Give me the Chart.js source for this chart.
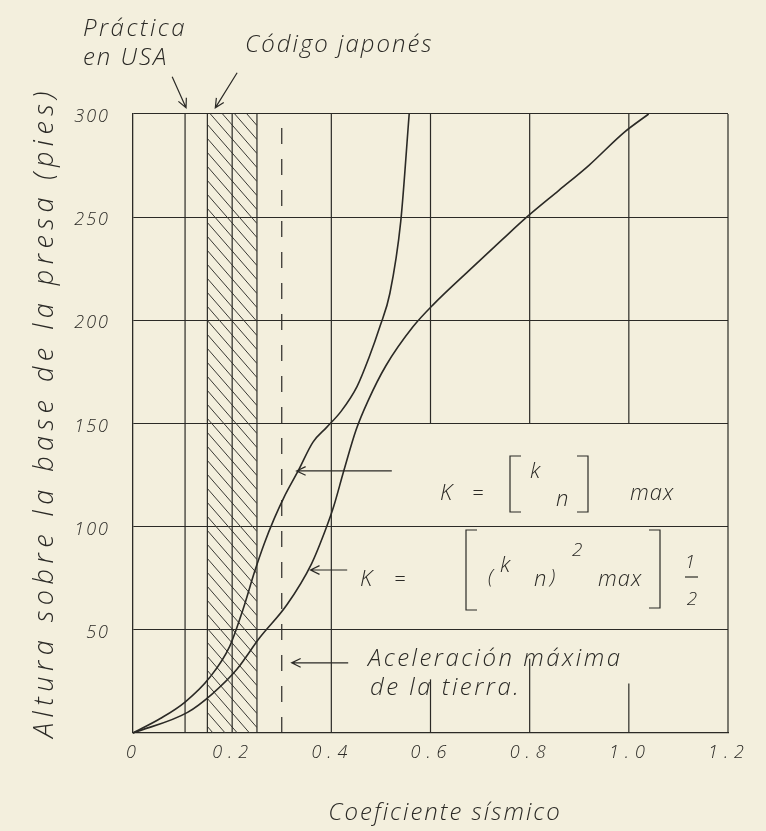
<!DOCTYPE html>
<html>
<head>
<meta charset="utf-8">
<script src="https://cdn.jsdelivr.net/npm/chart.js@4.4.0/dist/chart.umd.min.js"></script>
<style>
  html, body { margin: 0; padding: 0; background: #f3efdd; }
  #wrap { width: 766px; height: 831px; }
</style>
</head>
<body>
<div id="wrap"><canvas id="chart" width="766" height="831"></canvas></div>
<script>
// Ejes
const xTicks = [0, 0.2, 0.4, 0.6, 0.8, 1.0, 1.2];
const xTickText = ['0', '0.2', '0.4', '0.6', '0.8', '1.0', '1.2'];
const yTicks = [50, 100, 150, 200, 250, 300];

// Curva K = [k n] max
const kMaxX = [0, 0.055, 0.105, 0.155, 0.195, 0.222, 0.245, 0.265, 0.285, 0.304, 0.333, 0.363, 0.39, 0.42, 0.452, 0.476, 0.498, 0.518, 0.54, 0.557];
const kMaxY = [0, 7, 15, 27, 42, 60, 78, 92, 104, 114, 127, 141, 148, 156, 168, 182, 197, 213, 248, 300];

// Curva K = [(k n)^2 max] 1/2
const kRmsX = [0, 0.11, 0.16, 0.21, 0.255, 0.31, 0.36, 0.389, 0.405, 0.425, 0.45, 0.474, 0.51, 0.565, 0.607, 0.677, 0.744, 0.794, 0.859, 0.919, 0.99, 1.04];
const kRmsY = [0, 10, 19, 31, 46, 62, 82, 99, 110, 127, 147, 161, 178, 197, 208, 224, 239, 250, 263, 275, 291, 300];

// Lineas verticales de la cuadricula
const fullLinesX = [0.105, 0.15, 0.2, 0.25, 0.4, 1.2];
const upperLinesX = [0.6, 0.8, 1.0];
const upperFrom = 150;
const upperTo = 300;
const stubLinesX = [0.6, 0.8, 1.0];
const stubTop = [26, 36, 24];
const groundAccel = 0.3;      // aceleracion maxima de la tierra
const japanBand = [0.15, 0.25]; // codigo japones

const INK = '#2b2a26';
const HAND = '"Open Sans", "DejaVu Sans", sans-serif';

function seg(x, y0, y1) {
    return [{ x: x, y: y0 }, { x: x, y: y1 }];
}

const lineStyle = {
    showLine: true,
    pointRadius: 0,
    borderColor: INK,
    borderWidth: 1.2,
    fill: false,
    clip: false
};

const datasets = [];
fullLinesX.forEach(x => datasets.push({ ...lineStyle, data: seg(x, 0, 300) }));
upperLinesX.forEach(x => datasets.push({ ...lineStyle, data: seg(x, upperFrom, upperTo) }));
stubLinesX.forEach((x, i) => datasets.push({ ...lineStyle, data: seg(x, 0, stubTop[i]) }));
datasets.push({ ...lineStyle, borderDash: [16, 15], data: seg(groundAccel, 0, 300) });
datasets.push({
    ...lineStyle,
    borderWidth: 1.6,
    cubicInterpolationMode: 'monotone',
    data: kMaxX.map((x, i) => ({ x: x, y: kMaxY[i] }))
});
datasets.push({
    ...lineStyle,
    borderWidth: 1.6,
    cubicInterpolationMode: 'monotone',
    data: kRmsX.map((x, i) => ({ x: x, y: kRmsY[i] }))
});

// Flechas en coordenadas de datos
const arrows = [
    { from: [0.079, 318], to: [0.107, 303] },
    { from: [0.21, 320], to: [0.166, 303] },
    { from: [0.522, 127], to: [0.33, 127] },
    { from: [0.432, 79], to: [0.358, 79] },
    { from: [0.434, 34], to: [0.32, 34] }
];

function txt(ctx, s, x, y, size, align, spacing) {
    ctx.font = 'italic 300 ' + size + 'px ' + HAND;
    ctx.letterSpacing = (spacing || 0) + 'px';
    ctx.textAlign = align || 'left';
    ctx.textBaseline = 'alphabetic';
    ctx.fillText(s, x, y);
}

function drawArrow(ctx, x0, y0, x1, y1) {
    const a = Math.atan2(y1 - y0, x1 - x0);
    const h = 10;
    ctx.beginPath();
    ctx.moveTo(x0, y0);
    ctx.lineTo(x1, y1);
    ctx.moveTo(x1 - h * Math.cos(a - 0.45), y1 - h * Math.sin(a - 0.45));
    ctx.lineTo(x1, y1);
    ctx.lineTo(x1 - h * Math.cos(a + 0.45), y1 - h * Math.sin(a + 0.45));
    ctx.stroke();
}

function bracket(ctx, x, top, bottom, dir) {
    ctx.beginPath();
    ctx.moveTo(x + dir * 11, top);
    ctx.lineTo(x, top);
    ctx.lineTo(x, bottom);
    ctx.lineTo(x + dir * 11, bottom);
    ctx.stroke();
}

const paperPlugin = {
    id: 'paper',
    beforeDraw(chart) {
        const ctx = chart.ctx;
        ctx.save();
        ctx.fillStyle = '#f3efdd';
        ctx.fillRect(0, 0, chart.width, chart.height);
        ctx.restore();
    },
    beforeDatasetsDraw(chart) {
        // Rayado de la banda del codigo japones
        const ctx = chart.ctx;
        const xs = chart.scales.x, ys = chart.scales.y;
        const xl = xs.getPixelForValue(japanBand[0]);
        const xr = xs.getPixelForValue(japanBand[1]);
        const top = ys.getPixelForValue(300);
        const bottom = ys.getPixelForValue(0);
        ctx.save();
        ctx.beginPath();
        ctx.rect(xl, top, xr - xl, bottom - top);
        ctx.clip();
        ctx.strokeStyle = '#3a3934';
        ctx.lineWidth = 1;
        const w = xr - xl;
        for (let t = -w * 1.2; t < bottom - top + 10; t += 14) {
            ctx.beginPath();
            ctx.moveTo(xl, top + t);
            ctx.lineTo(xr, top + t + w * 1.15);
            ctx.stroke();
        }
        ctx.restore();
    },
    afterDraw(chart) {
        const ctx = chart.ctx;
        const xs = chart.scales.x, ys = chart.scales.y;
        ctx.save();
        ctx.fillStyle = INK;
        ctx.strokeStyle = INK;
        ctx.lineWidth = 1.2;

        // Etiquetas de los ejes
        ctx.font = 'italic 300 18px ' + HAND;
        ctx.letterSpacing = '2px';
        ctx.textAlign = 'right';
        ctx.textBaseline = 'middle';
        yTicks.forEach(v => ctx.fillText(String(v), 110, ys.getPixelForValue(v) + 3));
        ctx.letterSpacing = '6px';
        ctx.textAlign = 'center';
        xTicks.forEach((v, i) => ctx.fillText(xTickText[i], xs.getPixelForValue(v) + 1, 753));

        // Titulos
        txt(ctx, 'Coeficiente sísmico', 445, 820, 24, 'center', 2);
        ctx.save();
        ctx.translate(44, 412);
        ctx.rotate(-Math.PI / 2);
        txt(ctx, 'Altura sobre la base de la presa (pies)', 0, 9, 27, 'center', 5.5);
        ctx.restore();

        // Rotulos
        txt(ctx, 'Práctica', 83, 36, 24, 'left', 2.5);
        txt(ctx, 'en USA', 83, 65, 24, 'left', 2);
        txt(ctx, 'Código japonés', 245, 52, 24, 'left', 2);
        txt(ctx, 'Aceleración máxima', 368, 666, 24, 'left', 2.5);
        txt(ctx, 'de la tierra.', 370, 695, 24, 'left', 2.5);

        // K = [k n] max
        txt(ctx, 'K', 440, 500, 22, 'left', 0);
        txt(ctx, '=', 472, 500, 20, 'left', 0);
        bracket(ctx, 510, 456, 512, 1);
        txt(ctx, 'k', 530, 478, 22, 'left', 0);
        txt(ctx, 'n', 556, 506, 22, 'left', 0);
        bracket(ctx, 588, 456, 512, -1);
        txt(ctx, 'max', 630, 500, 22, 'left', 1);

        // K = [(k n)^2 max] 1/2
        txt(ctx, 'K', 360, 586, 22, 'left', 0);
        txt(ctx, '=', 394, 586, 20, 'left', 0);
        bracket(ctx, 466, 530, 610, 1);
        txt(ctx, '(', 488, 584, 20, 'left', 0);
        txt(ctx, 'k', 500, 572, 22, 'left', 0);
        txt(ctx, 'n', 534, 586, 22, 'left', 0);
        txt(ctx, ')', 550, 584, 20, 'left', 0);
        txt(ctx, '2', 572, 556, 19, 'left', 0);
        txt(ctx, 'max', 598, 586, 22, 'left', 1);
        bracket(ctx, 660, 530, 608, -1);
        txt(ctx, '1', 690, 568, 19, 'center', 0);
        txt(ctx, '2', 692, 605, 19, 'center', 0);
        ctx.beginPath();
        ctx.moveTo(685, 577);
        ctx.lineTo(698, 577);
        ctx.stroke();

        // Flechas
        arrows.forEach(a => {
            drawArrow(ctx,
                xs.getPixelForValue(a.from[0]), ys.getPixelForValue(a.from[1]),
                xs.getPixelForValue(a.to[0]), ys.getPixelForValue(a.to[1]));
        });
        ctx.restore();
    }
};

new Chart(document.getElementById('chart'), {
    type: 'scatter',
    data: { datasets: datasets },
    options: {
        responsive: false,
        animation: false,
        events: [],
        layout: { padding: { left: 133, right: 38, top: 114, bottom: 98 } },
        plugins: { legend: { display: false }, tooltip: { enabled: false } },
        scales: {
            x: {
                type: 'linear',
                min: 0,
                max: 1.2,
                ticks: { display: false, stepSize: 0.2 },
                grid: { display: false, drawTicks: false },
                border: { display: true, color: INK, width: 1.3 }
            },
            y: {
                type: 'linear',
                min: 0,
                max: 300,
                ticks: { display: false, stepSize: 50 },
                grid: { color: INK, lineWidth: 1.1, drawTicks: false },
                border: { display: true, color: INK, width: 1.3 }
            }
        }
    },
    plugins: [paperPlugin]
});
</script>
</body>
</html>
